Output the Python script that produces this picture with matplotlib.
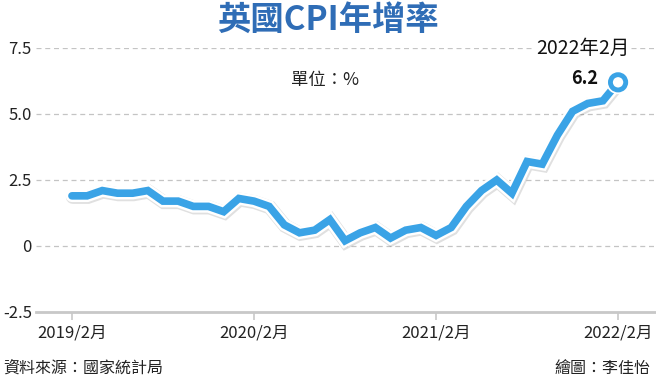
import matplotlib
matplotlib.use("Agg")
import matplotlib.pyplot as plt
import matplotlib.patheffects as pe

plt.rcParams['font.family'] = ['Noto Sans CJK TC', 'DejaVu Sans']

# UK CPI annual rate, monthly 2019/2 .. 2022/2
cpi = [1.9, 1.9, 2.1, 2.0, 2.0, 2.1, 1.7, 1.7, 1.5, 1.5, 1.3,
       1.8, 1.7, 1.5, 0.8, 0.5, 0.6, 1.0, 0.2, 0.5, 0.7, 0.3, 0.6,
       0.7, 0.4, 0.7, 1.5, 2.1, 2.5, 2.0, 3.2, 3.1, 4.2, 5.1, 5.4,
       5.5, 6.2]
months = list(range(len(cpi)))
xtick_pos = [0, 12, 24, 36]
xtick_labels = ['2019/2月', '2020/2月', '2021/2月', '2022/2月']
yticks = [-2.5, 0, 2.5, 5.0, 7.5]
ytick_labels = ['-2.5', '0', '2.5', '5.0', '7.5']

blue = '#3aa3e6'

fig = plt.figure(figsize=(6.56, 3.8), dpi=100)
ax = fig.add_axes([36/656, 1-312/380, 1-36/656, (312-48)/380])

ax.set_ylim(-2.5, 7.5)
ax.set_xlim(-2.37, 38.5)

for y in [0, 2.5, 5.0, 7.5]:
    ax.axhline(y, color='#c4c4c4', lw=0.9, ls=(0, (4, 3)), zorder=1)

for s in ['top', 'right', 'left']:
    ax.spines[s].set_visible(False)
ax.spines['bottom'].set_color('#c8c8c8')
ax.spines['bottom'].set_linewidth(2)

ax.plot(months, cpi, color=blue, lw=5.5, solid_joinstyle='miter', solid_capstyle='round',
        zorder=3, clip_on=False,
        path_effects=[pe.SimpleLineShadow(offset=(0.6, -0.8), shadow_color='black', alpha=0.12, linewidth=10),
                      pe.Stroke(linewidth=9, foreground='white'), pe.Normal()])
ax.plot(months[-1], cpi[-1], 'o', ms=11, mfc='white', mec=blue, mew=3.5, zorder=4, clip_on=False,
        path_effects=[pe.SimplePatchShadow(offset=(0.6, -0.8), alpha=0.12),
                      pe.Stroke(linewidth=6, foreground='white'), pe.Normal()])

ax.set_yticks(yticks)
ax.set_yticklabels(ytick_labels, fontsize=12, color='#222222')
ax.tick_params(axis='y', length=0, pad=3)
ax.set_xticks(xtick_pos)
ax.set_xticklabels(xtick_labels, fontsize=12, color='#222222')
ax.tick_params(axis='x', length=6, width=1.2, color='#c8c8c8', pad=3)

ax.text(months[-1] - 2.3, 7.5, '2022年2月', fontsize=14, ha='center', va='center', color='#111111',
        bbox=dict(facecolor='white', edgecolor='none', pad=1))
ax.text(months[-1] - 1.3, cpi[-1] + 0.15, f'{cpi[-1]}', fontsize=13, fontweight='bold', ha='right',
        va='center', color='#111111')
ax.text(16.7, 6.3, '單位：%', fontsize=12.5, ha='center', va='center', color='#222222')

fig.text(0.5, 1-20/380, '英國CPI年增率', fontsize=24, fontweight='bold', color='#2f6db6',
         ha='center', va='center')
fig.text(3/656, 1-368/380, '資料來源：國家統計局', fontsize=11.5, ha='left', va='center', color='#222222')
fig.text(650/656, 1-368/380, '繪圖：李佳怡', fontsize=11.5, ha='right', va='center', color='#222222')

fig.savefig('out.png', dpi=100)
